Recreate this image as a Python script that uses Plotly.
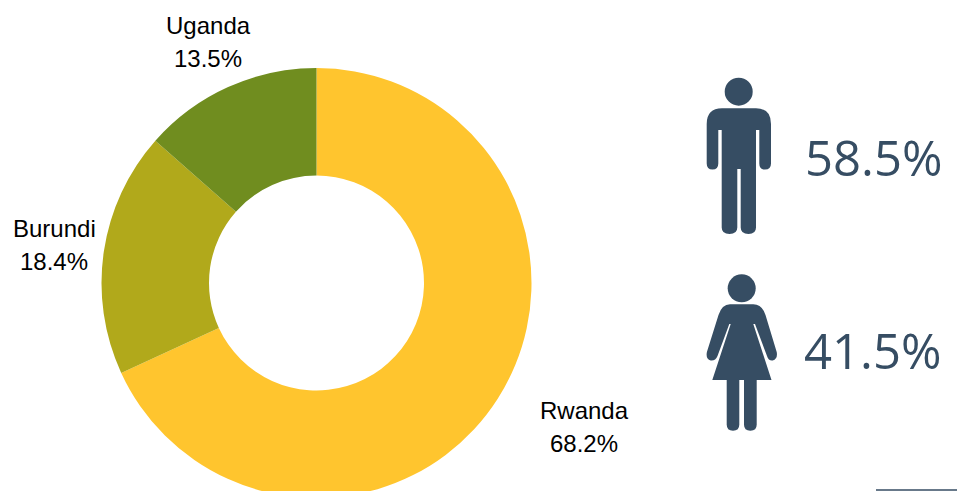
import plotly.graph_objects as go

# Share of refugees by country of origin
countries = ["Rwanda", "Burundi", "Uganda"]
shares = [68.2, 18.4, 13.5]
slice_colors = ["#FFC52E", "#B1A91B", "#708D1F"]

# Gender split
male_share = 58.5
female_share = 41.5

INK = "#364D63"
W, H = 957, 520  # canvas runs past the visible page so the ring can be clipped at the bottom
CX, CY, R = 316.5, 283, 215

fig = go.Figure(
    go.Pie(
        labels=countries,
        values=shares,
        hole=0.5,
        sort=False,
        direction="clockwise",
        rotation=0,
        textinfo="none",
        hoverinfo="label+percent",
        marker=dict(colors=slice_colors, line=dict(width=0)),
        showlegend=False,
        domain=dict(
            x=[(CX - R) / W, (CX + R) / W],
            y=[(H - CY - R) / H, (H - CY + R) / H],
        ),
    )
)


def px_label(x, y, text, size=24, family="Liberation Sans, Arial, sans-serif", color="#000000"):
    fig.add_annotation(
        x=x, y=y, xref="x", yref="y", text=text, showarrow=False,
        xanchor="center", yanchor="middle",
        font=dict(family=family, size=size, color=color),
    )


# Ring labels: name above value
label_spots = {"Rwanda": (584, 410, 443), "Burundi": (54, 228, 261), "Uganda": (208, 25, 58)}
for name, share in zip(countries, shares):
    x, y_name, y_value = label_spots[name]
    px_label(x, y_name, name)
    px_label(x, y_value, f"{share}%")

# Gender percentages
px_label(873.5, 157, f"{male_share}%", size=49, family="Open Sans, sans-serif", color=INK)
px_label(872.5, 350, f"{female_share}%", size=49, family="Open Sans, sans-serif", color=INK)


def disc(cx, cy, r):
    fig.add_shape(type="circle", xref="x", yref="y", x0=cx - r, x1=cx + r, y0=cy - r, y1=cy + r,
                  fillcolor=INK, line_width=0)


def glyph(path):
    fig.add_shape(type="path", xref="x", yref="y", path=path, fillcolor=INK, line_width=0)


# Man pictogram
disc(738.7, 91.7, 14)
glyph(
    "M 722 108.3 L 756 108.3 Q 771 108.3 771 124 L 771 163.5 "
    "Q 771 169.5 765 169.5 Q 759.3 169.5 759.3 163.5 L 759.3 130 L 756 130 "
    "L 756 227.5 Q 756 234 748.5 234 Q 740.7 234 740.7 227.5 L 740.7 169 L 737.3 169 "
    "L 737.3 227.5 Q 737.3 234 729.5 234 Q 721.7 234 721.7 227.5 L 721.7 130 L 718.3 130 "
    "L 718.3 163.5 Q 718.3 169.5 712.5 169.5 Q 706.7 169.5 706.7 163.5 L 706.7 124 "
    "Q 706.7 108.3 722 108.3 Z"
)

# Woman pictogram
disc(741.7, 288.3, 14)
glyph(
    "M 730 304.3 L 753.3 304.3 Q 762 304.3 765.5 315 L 776.7 352 "
    "Q 778 359 772.7 360.5 Q 768.5 361 767 356 L 755 324 L 753.3 324 "
    "L 771.5 380 L 712.3 380 L 730.7 324 L 729.3 324 L 717.5 356 "
    "Q 715.5 361 710.7 360.5 Q 705.5 359 706.9 352 L 718.5 315 Q 722 304.3 730 304.3 Z"
)
for left, right in [(726.7, 739.3), (744, 756.7)]:
    mid = (left + right) / 2
    glyph(
        f"M {left} 379 L {right} 379 L {right} 424.5 Q {right} 430.7 {mid} 430.7 "
        f"Q {left} 430.7 {left} 424.5 Z"
    )

# Rule at the lower right corner
fig.add_shape(type="line", xref="x", yref="y", x0=876, x1=957, y0=490, y1=490,
              line=dict(color=INK, width=1.5))

fig.update_layout(
    width=W,
    height=H,
    margin=dict(l=0, r=0, t=0, b=0),
    paper_bgcolor="#FFFFFF",
    plot_bgcolor="rgba(0,0,0,0)",
    xaxis=dict(range=[0, W], visible=False, fixedrange=True),
    yaxis=dict(range=[H, 0], visible=False, fixedrange=True),
)

fig.write_html(
    "out.html",
    config=dict(displayModeBar=False),
    post_script="document.documentElement.style.overflow='hidden';document.body.style.overflow='hidden';document.body.style.margin='0';",
)
